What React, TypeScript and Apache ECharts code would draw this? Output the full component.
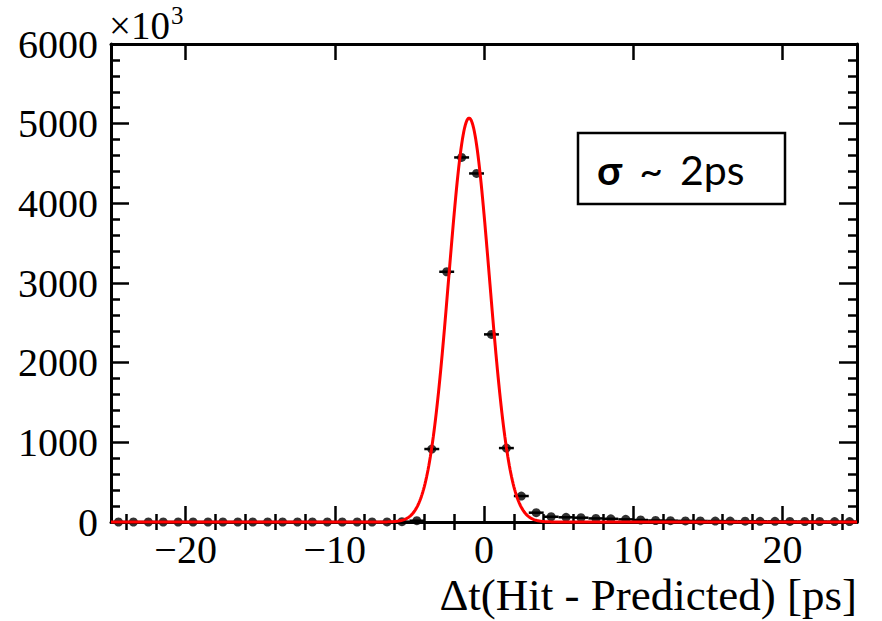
import React, { useEffect, useRef } from "react";
import * as echarts from "echarts";

// Bin centers (ps), bin width 1 ps
const BIN_CENTERS = [
  -24.5, -23.5, -22.5, -21.5, -20.5, -19.5, -18.5, -17.5, -16.5, -15.5,
  -14.5, -13.5, -12.5, -11.5, -10.5, -9.5, -8.5, -7.5, -6.5, -5.5,
  -4.5, -3.5, -2.5, -1.5, -0.5, 0.5, 1.5, 2.5, 3.5, 4.5,
  5.5, 6.5, 7.5, 8.5, 9.5, 10.5, 11.5, 12.5, 13.5, 14.5,
  15.5, 16.5, 17.5, 18.5, 19.5, 20.5, 21.5, 22.5, 23.5, 24.5,
];
// Entries per bin (x10^3)
const COUNTS = [
  0, 0, 0, 0, 0, 0, 0, 0, 0, 0,
  0, 0, 0, 0, 0, 0, 0, 0, 1, 4,
  16, 916, 3141, 4576, 4375, 2355, 928, 326, 117, 66,
  59, 54, 45, 40, 33, 25, 19, 17, 14, 13,
  12, 11, 10, 9, 8, 7, 6, 6, 5, 5,
];
const BIN_HALF_WIDTH = 0.5;

// Gaussian fit parameters
const FIT_AMPLITUDE = 5070;
const FIT_MEAN = -1.0;
const FIT_SIGMA = 1.36;

const X_MAJOR_TICKS = [-20, -10, 0, 10, 20];
const X_MINOR_TICKS = [
  -24, -22, -18, -16, -14, -12, -8, -6, -4, -2,
  2, 4, 6, 8, 12, 14, 16, 18, 22, 24,
];
const X_MIN = -25;
const X_MAX = 25;
const Y_MIN = 0;
const Y_MAX = 6000;
const Y_STEP = 1000;

const SERIF = "'Liberation Serif', 'Times New Roman', serif";
const SANS = "Lato, 'Noto Sans', sans-serif";
const AXIS_FONT = 40;

export default function App() {
  const ref = useRef<HTMLDivElement>(null);

  useEffect(() => {
    if (!ref.current) return;
    const chart = echarts.init(ref.current, undefined, { renderer: "svg" });

    const fitCurve: number[][] = [];
    for (let i = 0; i <= 1000; i++) {
      const x = X_MIN + ((X_MAX - X_MIN) * i) / 1000;
      const y =
        FIT_AMPLITUDE *
        Math.exp(-((x - FIT_MEAN) * (x - FIT_MEAN)) / (2 * FIT_SIGMA * FIT_SIGMA));
      fitCurve.push([x, y]);
    }
    const points = BIN_CENTERS.map((c, i) => [c, COUNTS[i]]);

    const frameLine = { show: true, onZero: false, lineStyle: { color: "#000", width: 3 } };
    const majorTickX = { show: true, inside: true, length: 16, lineStyle: { color: "#000", width: 2.5 }, customValues: X_MAJOR_TICKS };
    const minorTickX = { show: true, inside: true, length: 8, lineStyle: { color: "#000", width: 2.5 }, customValues: X_MINOR_TICKS };
    const baseX = { type: "value", min: X_MIN, max: X_MAX, splitLine: { show: false }, gridIndex: 0 };

    const yBase = {
      type: "value",
      min: Y_MIN,
      max: Y_MAX,
      interval: Y_STEP,
      splitLine: { show: false },
      axisLine: frameLine,
      axisTick: { show: true, inside: true, length: 18, lineStyle: { color: "#000", width: 2.5 } },
      minorTick: { show: true, splitNumber: 5, length: 9, lineStyle: { color: "#000", width: 2.5 } },
    };

    chart.setOption({
      animation: false,
      backgroundColor: "#fff",
      grid: { left: 111, right: 25, top: 44, bottom: 99, containLabel: false, outerBoundsMode: "none" },
      xAxis: [
        {
          ...baseX,
          position: "bottom",
          axisLine: frameLine,
          axisTick: majorTickX,
          axisLabel: {
            show: true,
            customValues: X_MAJOR_TICKS,
            margin: 7,
            color: "#000",
            fontFamily: SERIF,
            fontSize: AXIS_FONT,
            formatter: (v: number) => (v < 0 ? "\u2212" + Math.abs(v) : String(v)),
          },
        },
        {
          ...baseX,
          position: "bottom",
          axisLine: { show: false },
          axisTick: minorTickX,
          axisLabel: { show: false },
        },
        {
          ...baseX,
          position: "top",
          axisLine: frameLine,
          axisTick: majorTickX,
          axisLabel: { show: false },
        },
        {
          ...baseX,
          position: "top",
          axisLine: { show: false },
          axisTick: minorTickX,
          axisLabel: { show: false },
        },
      ],
      yAxis: [
        {
          ...yBase,
          position: "left",
          axisLabel: {
            show: true,
            margin: 13,
            color: "#000",
            fontFamily: SERIF,
            fontSize: AXIS_FONT,
            formatter: (v: number) => String(v),
          },
        },
        {
          ...yBase,
          position: "right",
          axisLabel: { show: false },
        },
      ],
      series: [
        {
          type: "custom",
          xAxisIndex: 0,
          yAxisIndex: 0,
          clip: false,
          data: points,
          renderItem: (params: any, api: any) => {
            const x = api.value(0);
            const y = api.value(1);
            const p1 = api.coord([x - BIN_HALF_WIDTH, y]);
            const p2 = api.coord([x + BIN_HALF_WIDTH, y]);
            return {
              type: "line",
              shape: { x1: p1[0], y1: p1[1], x2: p2[0], y2: p2[1] },
              style: { stroke: "#000", lineWidth: 2.5 },
            };
          },
          z: 3,
        },
        {
          type: "scatter",
          xAxisIndex: 0,
          yAxisIndex: 0,
          data: points,
          symbol: "circle",
          symbolSize: 9,
          itemStyle: { color: "#000" },
          clip: false,
          z: 4,
        },
        {
          type: "line",
          xAxisIndex: 0,
          yAxisIndex: 0,
          data: fitCurve,
          showSymbol: false,
          symbol: "none",
          smooth: false,
          clip: false,
          lineStyle: { color: "#ff0000", width: 3 },
          z: 5,
        },
      ],
      graphic: [
        {
          type: "text",
          x: 109,
          y: 25,
          style: {
            text: "\u00d710",
            fontFamily: SERIF,
            fontSize: 39,
            fill: "#000",
            align: "left",
            verticalAlign: "middle",
          },
        },
        {
          type: "text",
          x: 171,
          y: 15,
          style: {
            text: "3",
            fontFamily: SERIF,
            fontSize: 25,
            fill: "#000",
            align: "left",
            verticalAlign: "middle",
          },
        },
        {
          type: "text",
          right: 25,
          top: 572,
          style: {
            text: "\u0394t(Hit - Predicted) [ps]",
            fontFamily: SERIF,
            fontSize: 45,
            fill: "#000",
          },
        },
        {
          type: "rect",
          shape: { x: 578, y: 133, width: 207, height: 71 },
          style: { fill: "#fff", stroke: "#000", lineWidth: 2.5 },
          z: 10,
        },
        {
          type: "text",
          x: 597,
          y: 169,
          z: 11,
          style: {
            text: "{b|\u03c3}{t|~}{n|2ps}",
            verticalAlign: "middle",
            align: "left",
            fill: "#000",
            rich: {
              b: { fontFamily: SANS, fontSize: 41, fontWeight: "bold", fill: "#000" },
              t: { fontFamily: SANS, fontSize: 41, fill: "#000", padding: [0, 17, 0, 17] },
              n: { fontFamily: SANS, fontSize: 41, fill: "#000" },
            },
          },
        },
      ],
    });

    return () => chart.dispose();
  }, []);

  return (
    <div
      ref={ref}
      style={{ position: "fixed", left: 0, top: 0, width: 882, height: 621 }}
    />
  );
}
